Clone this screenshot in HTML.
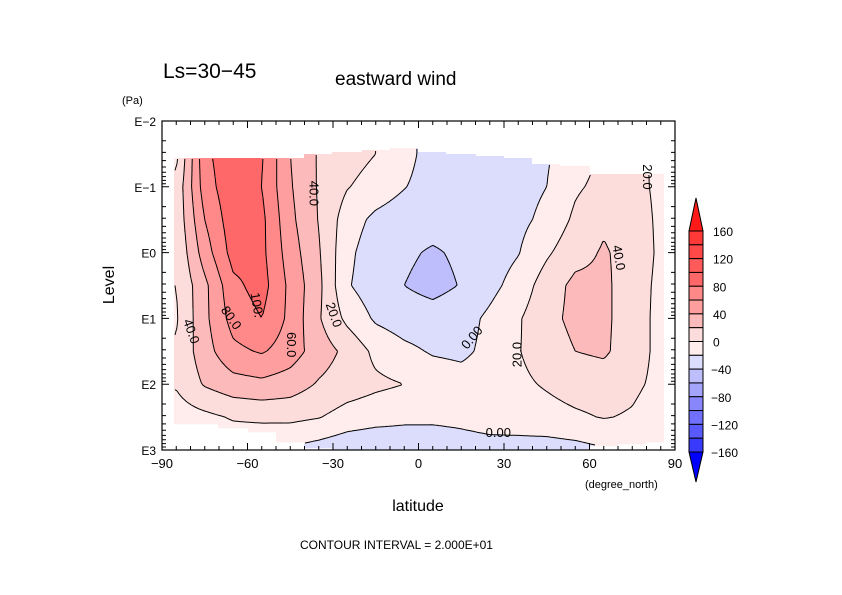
<!DOCTYPE html>
<html><head><meta charset="utf-8"><style>
html,body{margin:0;padding:0;background:#fff;}
svg{display:block;font-family:"Liberation Sans",sans-serif;}
</style></head><body>
<svg id="chart" width="842" height="595" viewBox="0 0 842 595" xmlns="http://www.w3.org/2000/svg">
<rect width="842" height="595" fill="#fff"/>
<g id="fill"></g>
<g id="lines"></g>
<g id="axes"></g>
<g id="cbar"></g>
<text x="163" y="78" font-size="21" fill="#000">Ls=30−45</text>
<text x="335" y="85" font-size="19" fill="#000">eastward wind</text>
<text x="122" y="104" font-size="11" fill="#000">(Pa)</text>
<text x="0" y="0" font-size="16" fill="#000" transform="translate(114,285) rotate(-90)" text-anchor="middle">Level</text>
<text x="418" y="511" font-size="16" fill="#000" text-anchor="middle">latitude</text>
<text x="585" y="488" font-size="11" fill="#000">(degree_north)</text>
<text x="300" y="549" font-size="12" fill="#000">CONTOUR INTERVAL = 2.000E+01</text>
<g id="clabels" font-size="13" fill="#000"></g>
</svg>
<script>
// ---- data ----
const lats = [-85,-75,-65,-55,-45,-35,-25,-15,-5,5,15,25,35,45,55,65,75,85];
const levels = [-1.5,-1,-0.5,0,0.5,1,1.5,2,2.5,3]; // log10(pressure/Pa)
const u_m15 = [15,95,115,102,60,38,28,20,8,-10,-12,-10,-8,-2,10,23,25,16];
const u_m10 = [25,90,115,100,62,38,21,12,1,-10,-12,-10,-7,0,17,26,26,16];
const u_m05 = [25,80,112,105,65,39,10,-5,-12,-13,-13,-11,-5,5,24,37,30,16];
const u_p00 = [22,70,108,105,70,42,5,-12,-17,-22,-17,-10,-1,17,33,42,33,16];
const u_p05 = [20,55,95,108,75,45,2,-12,-20,-26,-19,-6,8,30,45,44,30,15];
const u_p10 = [18,55,88,100,75,42,15,-3,-10,-12,-8,4,18,34,45,44,30,14];
const u_p15 = [22,52,75,82,70,50,35,15,5,-2,-4,5,19,30,40,43,30,14];
const u_p20 = [22,42,52,55,50,38,30,24,20,12,8,10,16,22,28,30,24,15];
const u_p25 = [10,15,22,24,25,21,12,8,5,4,5,8,10,13,17,21,18,10];
const u_p30 = [8,8,5,2,-3,-9,-15,-18,-16,-13,-9,-7,-8,-9,-7,-2,5,6];
const topLogp = [-1.45,-1.45,-1.45,-1.45,-1.45,-1.5,-1.52,-1.56,-1.58,-1.52,-1.5,-1.48,-1.45,-1.36,-1.32,-1.18,-1.18,-1.18];
const botLogp = [2.62,2.62,2.67,2.74,2.88,2.97,3.0,3.0,3.0,3.0,3.0,3.0,3.0,3.0,3.0,2.95,2.92,2.88];
const contourLevels = [-20,0,20,40,60,80,100];
const cbarTicks = [160,120,80,40,0,-40,-80,-120,-160];
const bandColors = ["#ff1a1a","#ff3838","#ff4848","#ff5a5a","#ff6868","#ff8888","#ff9e9e","#fdbaba","#fddcdc","#ffeded",
 "#dcdcfc","#bebefc","#a4a4fc","#8888fc","#7070fc","#5a5afc","#3a3afc","#1a1afc","#0000ff"];
const field = [u_m15,u_m10,u_m05,u_p00,u_p05,u_p10,u_p15,u_p20,u_p25,u_p30];

// ---- axes functions ----
const X0=162,X1=675,Y0=121,Y1=450;
const xs = lat => X0+(lat+90)*(X1-X0)/180;
const ys = lp => Y0+(lp+2)*(Y1-Y0)/5;
const latOf = x => (x-X0)*180/(X1-X0)-90;
const lpOf = y => (y-Y0)*5/(Y1-Y0)-2;
const NS="http://www.w3.org/2000/svg";
function mk(tag,attrs,parent){const e=document.createElementNS(NS,tag);for(const k in attrs)e.setAttribute(k,attrs[k]);parent.appendChild(e);return e;}

function val(lat,lp){
  let fi=(lat-lats[0])/10; fi=Math.max(0,Math.min(lats.length-1.0001,fi));
  let fj=(lp-levels[0])/0.5; fj=Math.max(0,Math.min(levels.length-1.0001,fj));
  const i=Math.floor(fi),j=Math.floor(fj),a=fi-i,b=fj-j;
  const r0=field[j],r1=field[j+1];
  return (r0[i]*(1-a)+r0[i+1]*a)*(1-b)+(r1[i]*(1-a)+r1[i+1]*a)*b;
}
function inside(lat,lp){
  if(lat<-86||lat>86)return false;
  let k=Math.round((lat+85)/10);k=Math.max(0,Math.min(17,k));
  return lp>=topLogp[k]&&lp<=botLogp[k];
}
function colorOf(v){
  if(v>=160)return bandColors[0];
  if(v<-160)return bandColors[18];
  const b=Math.floor(v/20);
  return bandColors[9-b];
}

// ---- fill ----
const S=2;
const gx0=174,gx1=664,gy0=140,gy1=450;
const nx=Math.round((gx1-gx0)/S), ny=Math.round((gy1-gy0)/S);
const V=[],M=[];
for(let j=0;j<=ny;j++){V.push([]);M.push([]);
  for(let i=0;i<=nx;i++){const x=gx0+i*S+S/2,y=gy0+j*S+S/2;
    const la=latOf(x),lp=lpOf(y);V[j].push(val(la,lp));M[j].push(inside(la,lp));}}
const fillG=document.getElementById('fill');
for(let j=0;j<ny;j++){
  let start=-1,col=null;
  const flush=(end)=>{if(start>=0&&col){const r=mk('rect',{x:gx0+start*S,y:gy0+j*S,width:(end-start)*S,height:S+0.3,fill:col},fillG);
    
    }};
  for(let i=0;i<nx;i++){
    const c=M[j][i]?colorOf(V[j][i]):null;
    if(c!==col){flush(i);start=i;col=c;}
  }
  flush(nx);
}
// ---- contour lines (marching squares) ----
const linesG=document.getElementById('lines');
contourLevels.forEach(L=>{
  let d="";
  for(let j=0;j<ny;j++)for(let i=0;i<nx;i++){
    if(!(M[j][i]&&M[j][i+1]&&M[j+1][i]&&M[j+1][i+1]))continue;
    const c=[[i,j,V[j][i]],[i+1,j,V[j][i+1]],[i+1,j+1,V[j+1][i+1]],[i,j+1,V[j+1][i]]];
    const pts=[];
    for(let e=0;e<4;e++){const p=c[e],q=c[(e+1)%4];
      if((p[2]<L)!==(q[2]<L)){const t=(L-p[2])/(q[2]-p[2]);
        pts.push([gx0+(p[0]+t*(q[0]-p[0]))*S+S/2,gy0+(p[1]+t*(q[1]-p[1]))*S+S/2]);}}
    for(let k=0;k+1<pts.length;k+=2)d+=`M${pts[k][0].toFixed(1)} ${pts[k][1].toFixed(1)}L${pts[k+1][0].toFixed(1)} ${pts[k+1][1].toFixed(1)}`;
  }
  const p=mk('path',{d:d,stroke:'#000','stroke-width':1,fill:'none'},linesG);
  
  
});
// ---- contour labels ----
const clab=document.getElementById('clabels');
[["40.0",-37,-0.9,90],["100.",-57,0.8,80],["20.0",-30,0.95,70],["80.0",-66,1.0,55],["40.0",-80,1.2,70],["60.0",-45,1.4,90],
 ["0.00",19,1.3,-50],["20.0",35,1.55,-90],["40.0",70,0.08,80],["20.0",80,-1.15,90],["0.00",28,2.75,0]].forEach(([t,la,lp,rot])=>{
  const x=xs(la),y=ys(lp);
  const tx=mk('text',{x:x,y:y,'text-anchor':'middle','dominant-baseline':'middle',transform:`rotate(${rot} ${x} ${y})`},clab);
  tx.textContent=t;
  
  
});
// ---- axes ----
const ax=document.getElementById('axes');
const fr=mk('rect',{x:X0,y:Y0,width:X1-X0,height:Y1-Y0,fill:'none',stroke:'#000','stroke-width':1.2},ax);


let td="";
for(let la=-90;la<=90;la+=5){const x=xs(la),len=(la%30===0)?7:4;
  td+=`M${x} ${Y0}v${len}M${x} ${Y1}v${-len}`;}
for(let dec=-2;dec<3;dec++)for(let m=1;m<=9;m++){const y=ys(dec+Math.log10(m)),len=m===1?7:4;
  td+=`M${X0} ${y}h${len}M${X1} ${y}h${-len}`;}
const tk=mk('path',{d:td,stroke:'#000','stroke-width':1,fill:'none'},ax);


const xTickLabels=["-90","-60","-30","0","30","60","90"];
xTickLabels.forEach(s=>{const la=+s;
  const t=mk('text',{x:xs(la),y:Y1+18,'font-size':13,'text-anchor':'middle'},ax);
  t.textContent=s.replace('-','−');
  
  });
const yTickLabels=["E-2","E-1","E0","E1","E2","E3"];
yTickLabels.forEach((s,k)=>{
  const t=mk('text',{x:X0-6,y:ys(k-2)+5,'font-size':12,'text-anchor':'end'},ax);
  t.textContent=s.replace('-','−');
  
  });
// ---- colorbar ----
const cb=document.getElementById('cbar');
const cx0=689,cx1=703,cy0=231,cy1=452,bh=(cy1-cy0)/16;
const up=mk('polygon',{points:`${cx0},${cy0} ${(cx0+cx1)/2},${cy0-33} ${cx1},${cy0}`,fill:bandColors[0],stroke:'#000','stroke-width':1},cb);


for(let k=0;k<16;k++){
  const r=mk('rect',{x:cx0,y:cy0+k*bh,width:cx1-cx0,height:bh,fill:bandColors[k+1],stroke:'#000','stroke-width':1},cb);
  
  
}
const dn=mk('polygon',{points:`${cx0},${cy1} ${(cx0+cx1)/2},${cy1+30} ${cx1},${cy1}`,fill:bandColors[18],stroke:'#000','stroke-width':1},cb);


cbarTicks.forEach(v=>{
  const y=cy0+(160-v)/20*bh;
  const t=mk('text',{x:v<0?711:713,y:y+5,'font-size':12},cb);
  t.textContent=String(v).replace('-','−');
  
  
});
</script>
</body></html>
